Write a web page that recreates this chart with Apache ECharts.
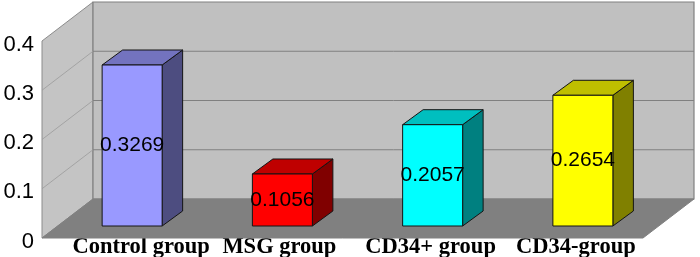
<!DOCTYPE html>
<html>
<head>
<meta charset="utf-8">
<style>html,body{margin:0;padding:0;background:#fff}#c{width:700px;height:257px}</style>
<script src="https://cdn.jsdelivr.net/npm/echarts@6/dist/echarts.min.js"></script>
</head>
<body>
<div id="c"></div>
<script>
const categories = ['Control group', 'MSG group', 'CD34+ group', 'CD34-group'];
const values = [0.3269, 0.1056, 0.2057, 0.2654];
const yTicks = [0, 0.1, 0.2, 0.3, 0.4];
const frontColors = ['#9999FF', '#FF0000', '#00FFFF', '#FFFF00'];
const topColors = ['#7373BF', '#BF0000', '#00BFBF', '#BFBF00'];
const sideColors = ['#4D4D80', '#800000', '#008080', '#808000'];
const labelShift = [24, 12, 13, 8];

const WALL_DX = 51, WALL_DY = -39;
const BAR_DX = 15, BAR_DY = -12, BAR_W = 60, DEPTH_DX = 20.5, DEPTH_DY = -15;

const chart = echarts.init(document.getElementById('c'), null, {renderer: 'canvas'});

function poly(points, fill, stroke, lw) {
  return {type: 'polygon', shape: {points}, style: {fill, stroke, lineWidth: lw}};
}

function renderWalls(params, api) {
  const cs = params.coordSys;
  const l = cs.x, r = cs.x + cs.width;
  const y0 = api.coord([0, 0])[1], yMax = api.coord([0, 0.4])[1];
  const bl = l + WALL_DX, br = r + WALL_DX;
  const children = [
    poly([[l, y0], [bl, y0 + WALL_DY], [bl, yMax + WALL_DY], [l, yMax]], '#C4C4C4', '#8C8C8C', 1),
    poly([[bl, y0 + WALL_DY], [br, y0 + WALL_DY], [br, yMax + WALL_DY], [bl, yMax + WALL_DY]], '#C0C0C0', '#808080', 1.2),
    poly([[l, y0], [r, y0], [br, y0 + WALL_DY], [bl, y0 + WALL_DY]], '#808080', '#808080', 1)
  ];
  yTicks.slice(1, -1).forEach(t => {
    const y = api.coord([0, t])[1];
    children.push({type: 'line', shape: {x1: l, y1: y, x2: bl, y2: y + WALL_DY},
      style: {stroke: '#9A9A9A', lineWidth: 0.8}});
    children.push({type: 'line', shape: {x1: bl, y1: y + WALL_DY, x2: br, y2: y + WALL_DY},
      style: {stroke: '#808080', lineWidth: 1}});
  });
  return {type: 'group', children};
}

function renderBar(params, api) {
  const i = api.value(0), v = api.value(1);
  const base = api.coord([i, 0]), top = api.coord([i, v]);
  const x0 = base[0] + BAR_DX - BAR_W / 2, x1 = x0 + BAR_W;
  const yb = base[1] + BAR_DY, yt = top[1] + BAR_DY;
  const k = '#141414';
  return {type: 'group', children: [
    poly([[x1, yb], [x1 + DEPTH_DX, yb + DEPTH_DY], [x1 + DEPTH_DX, yt + DEPTH_DY], [x1, yt]], sideColors[i], k, 1),
    poly([[x0, yt], [x1, yt], [x1 + DEPTH_DX, yt + DEPTH_DY], [x0 + DEPTH_DX, yt + DEPTH_DY]], topColors[i], k, 1),
    poly([[x0, yb], [x1, yb], [x1, yt], [x0, yt]], frontColors[i], k, 1),
    {type: 'text', style: {
      text: v.toFixed(4), x: (x0 + x1) / 2, y: (yb + yt) / 2, align: 'center', verticalAlign: 'middle',
      fill: '#000', font: '21px "Liberation Sans"'
    }}
  ]};
}

chart.setOption({
  animation: false,
  backgroundColor: '#fff',
  grid: {left: 42, right: 57, top: 41, bottom: 19, containLabel: false, outerBoundsMode: 'none'},
  xAxis: {
    type: 'category',
    data: categories.map((c, i) => ({value: c, textStyle: {padding: [0, 0, 0, labelShift[i] * 2]}})),
    axisLine: {show: false}, axisTick: {show: false},
    axisLabel: {interval: 0, margin: -2, color: '#000', fontFamily: 'Liberation Serif', fontWeight: 'bold', fontSize: 22.5, hideOverlap: false}
  },
  yAxis: {
    type: 'value', min: 0, max: 0.4, interval: 0.1,
    axisLine: {show: false}, axisTick: {show: false}, splitLine: {show: false},
    axisLabel: {margin: 8, verticalAlign: 'top', lineHeight: 7, color: '#000', fontFamily: 'Liberation Sans', fontSize: 22,
      formatter: v => String(+v.toFixed(1))}
  },
  series: [
    {type: 'custom', name: 'walls', silent: true, clip: false, z: 1, renderItem: renderWalls, data: [[0, 0]]},
    {type: 'custom', name: 'values', clip: false, z: 3, renderItem: renderBar,
      encode: {x: 0, y: 1}, data: values.map((v, i) => [i, v])}
  ]
});
</script>
</body>
</html>
